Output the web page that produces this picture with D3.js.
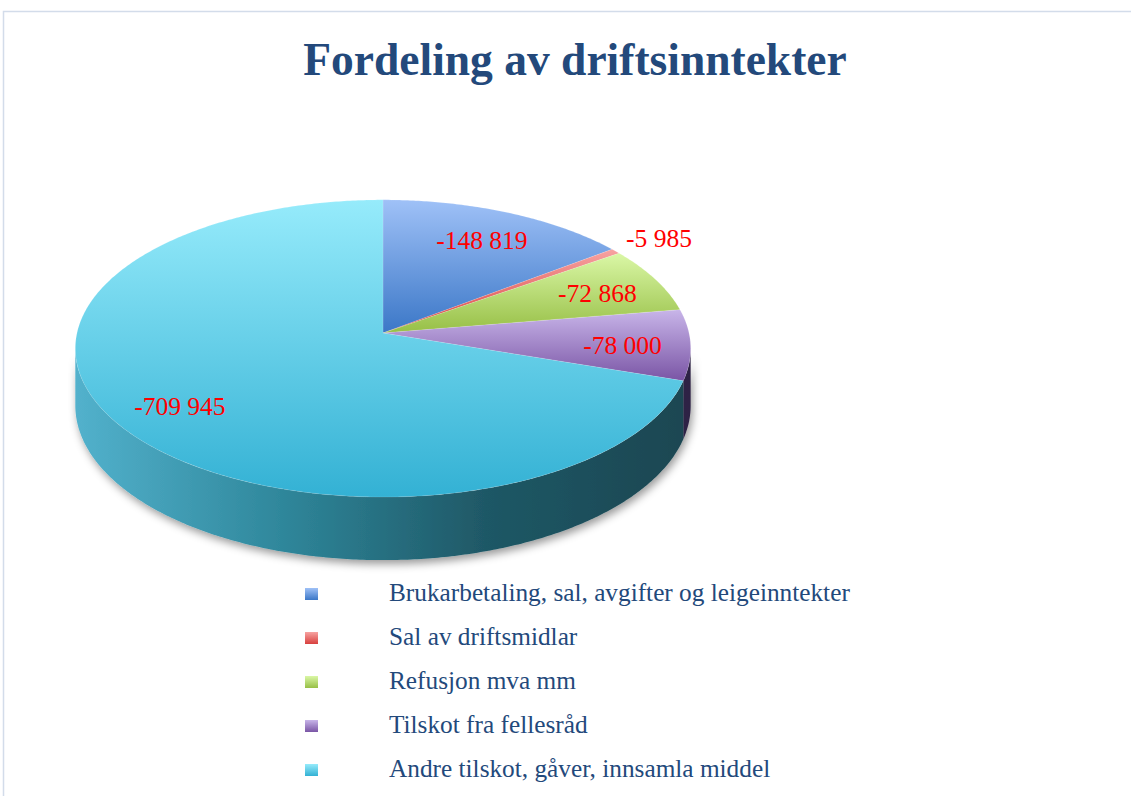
<!DOCTYPE html>
<html><head><meta charset="utf-8">
<script src="https://cdn.jsdelivr.net/npm/d3@7/dist/d3.min.js"></script>
<style>html,body{margin:0;padding:0;background:#fff;}svg{display:block;}</style>
</head><body>
<svg id="chart" width="1131" height="796"></svg>
<script>
// ---- data ----
const title = "Fordeling av driftsinntekter";
const categories = [
  "Brukarbetaling, sal, avgifter og leigeinntekter",
  "Sal av driftsmidlar",
  "Refusjon mva mm",
  "Tilskot fra fellesråd",
  "Andre tilskot, gåver, innsamla middel"
];
const values = [-148819, -5985, -72868, -78000, -709945];
const topLight = ["#9fc1f7", "#f7a3a1", "#daf7a6", "#c8b5e9", "#96ebfb"];
const topDark  = ["#3b77c7", "#d8403e", "#97bf46", "#7a55a5", "#33b1d4"];
const sideCols = {
  3: ["#4a3a6e", "#2e2245"],
  4: ["#52b1cc", "#2f879b", "#1f5866", "#1a4651"]
};

// ---- layout ----
const svg = d3.select("#chart");
const W = 1131, H = 796;
const cx = 383, cy = 333, RX = 306, RY = 147, P = 0.104, DEPTH = 56.5;

const fmt = d3.formatLocale({decimal: ",", thousands: " ", grouping: [3], minus: "-"}).format(",");

// frame
svg.append("path")
  .attr("d", `M3.5,${H} L3.5,11.5 L${W},11.5`)
  .attr("fill", "none").attr("stroke", "#d3dcea").attr("stroke-width", 1.5);

const defs = svg.append("defs");
topLight.forEach((c, i) => {
  const g = defs.append("linearGradient").attr("id", "tg" + i)
    .attr("x1", 0).attr("y1", 0).attr("x2", 0).attr("y2", 1);
  g.append("stop").attr("offset", "0").attr("stop-color", c);
  g.append("stop").attr("offset", "1").attr("stop-color", topDark[i]);
});
Object.keys(sideCols).forEach(k => {
  const cols = sideCols[k];
  const g = defs.append("linearGradient").attr("id", "sg" + k)
    .attr("gradientUnits", "userSpaceOnUse")
    .attr("x1", cx - RX).attr("y1", 0).attr("x2", cx + RX).attr("y2", 0);
  cols.forEach((c, j) => g.append("stop").attr("offset", j / (cols.length - 1)).attr("stop-color", c));
});
const f = defs.append("filter").attr("id", "shadow")
  .attr("x", "-10%").attr("y", "-20%").attr("width", "130%").attr("height", "160%");
f.append("feDropShadow").attr("dx", 2).attr("dy", 4).attr("stdDeviation", 4)
  .attr("flood-color", "#000").attr("flood-opacity", 0.4);

// projection of a point on the (tilted, perspective) pie plane
function proj(theta, r, depth) {
  const u = r * Math.sin(theta), v = r * Math.cos(theta);
  const w = 1 + P * v;
  return [cx + RX * u / w, cy - RY * v / w + (depth || 0) / w];
}
function arcPts(a0, a1, depth) {
  const n = Math.max(2, Math.ceil((a1 - a0) / 0.01));
  return d3.range(n + 1).map(i => proj(a0 + (a1 - a0) * i / n, 1, depth));
}

const pie = d3.pie().value(d => Math.abs(d)).sort(null).startAngle(0).endAngle(2 * Math.PI);
const arcs = pie(values);
const total = d3.sum(values, d => Math.abs(d));

// side faces
const visA = Math.acos(-P), visB = 2 * Math.PI - Math.acos(-P);
const sideG = svg.append("g").attr("filter", "url(#shadow)");
arcs.forEach((a, i) => {
  const s = Math.max(a.startAngle, visA), e = Math.min(a.endAngle, visB);
  if (e <= s) return;
  const top = arcPts(s, e, 0), bot = arcPts(s, e, DEPTH).reverse();
  sideG.append("path")
    .attr("d", d3.line()(top.concat(bot)) + "Z")
    .attr("fill", sideCols[i] ? `url(#sg${i})` : topDark[i]);
});

// top faces
const topG = svg.append("g");
arcs.forEach((a, i) => {
  const pts = [[cx, cy]].concat(arcPts(a.startAngle, a.endAngle, 0));
  topG.append("path")
    .attr("d", d3.line()(pts) + "Z")
    .attr("fill", `url(#tg${i})`)
    .attr("stroke", "rgba(255,255,255,0.25)").attr("stroke-width", 0.5);
});

// data labels
const labG = svg.append("g");
arcs.forEach((a, i) => {
  const mid = (a.startAngle + a.endAngle) / 2;
  const r = Math.abs(values[i]) / total < 0.02 ? 1.2 : 0.78;
  const [x, y] = proj(mid, r, 0);
  labG.append("text")
    .attr("x", x).attr("y", y + 3)
    .attr("text-anchor", "middle").attr("dominant-baseline", "central")
    .attr("font-family", "'Liberation Serif', serif").attr("font-size", 25.5)
    .attr("fill", "#ff0000")
    .text(fmt(values[i]));
});

// title
svg.append("text")
  .attr("x", 575).attr("y", 75)
  .attr("text-anchor", "middle")
  .attr("font-family", "'Liberation Serif', serif").attr("font-weight", "bold")
  .attr("font-size", 45.5).attr("fill", "#23497b")
  .text(title);

// legend
const legY = d3.scalePoint().domain(categories).range([594, 770]);
const leg = svg.append("g");
categories.forEach((c, i) => {
  const y = legY(c);
  leg.append("rect").attr("x", 305).attr("y", y - 6).attr("width", 13).attr("height", 12)
    .attr("fill", `url(#tg${i})`);
  leg.append("text").attr("x", 389).attr("y", y + 7)
    .attr("font-family", "'Liberation Serif', serif").attr("font-size", 25.3)
    .attr("fill", "#23497b").text(c);
});
</script>
</body></html>
